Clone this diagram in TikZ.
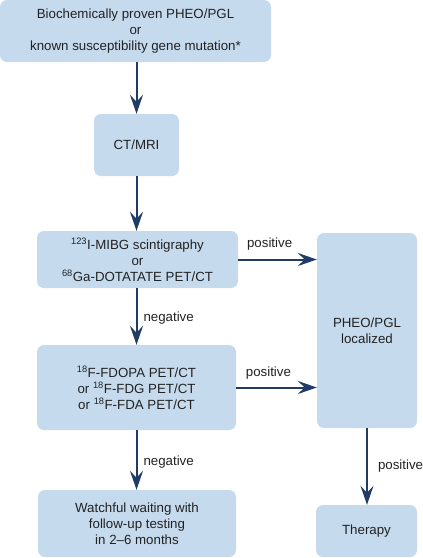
\documentclass[tikz,border=0pt]{standalone}
\usepackage{fontspec}
\setmainfont{Liberation Sans}
\usetikzlibrary{arrows.meta}
\definecolor{boxblue}{HTML}{C6DAEE}
\definecolor{navy}{HTML}{1F3B66}
\definecolor{inktext}{HTML}{222222}

\begin{document}
\begin{tikzpicture}[x=1pt, y=-1pt, >={Stealth[length=19pt, width=13pt, inset=7pt]},
  box/.style={rectangle, rounded corners=7pt, fill=boxblue, align=center, inner sep=0pt, text=inktext, font=\fontsize{13.3}{16}\selectfont},
  edge/.style={->, line width=2pt, draw=navy},
  lbl/.style={text=inktext, font=\fontsize{13.3}{16}\selectfont, inner sep=0pt}
]
\useasboundingbox (0,0) rectangle (423,558);
\node[box, minimum width=271pt, minimum height=62pt] (susp) at (135.5,31) {Biochemically proven PHEO/PGL\\or\\known susceptibility gene mutation*};
\node[box, minimum width=85pt, minimum height=62pt] (ctmri) at (136.5,145) {CT/MRI};
\node[box, minimum width=201pt, minimum height=57pt] (mibg) at (137.5,259.5) {\textsuperscript{123}I-MIBG scintigraphy\\or\\\textsuperscript{68}Ga-DOTATATE PET/CT};
\node[box, minimum width=199pt, minimum height=85pt] (fdopa) at (136.5,387.5) {\textsuperscript{18}F-FDOPA PET/CT\\or \textsuperscript{18}F-FDG PET/CT\\or \textsuperscript{18}F-FDA PET/CT};
\node[box, minimum width=198pt, minimum height=67pt] (watch) at (137,523.5) {Watchful waiting with\\follow-up testing\\in 2–6 months};
\node[box, minimum width=100pt, minimum height=195pt] (local) at (367,330.5) {PHEO/PGL\\localized};
\node[box, minimum width=101pt, minimum height=52pt] (therapy) at (366.5,531) {Therapy};
\draw[edge] (susp.south -| ctmri) -- (ctmri.north);
\draw[edge] (ctmri) -- (ctmri |- mibg.north);
\draw[edge] (mibg.south -| fdopa) -- node[lbl, right=6pt, pos=0.53] {negative} (fdopa.north);
\draw[edge] (fdopa) -- node[lbl, right=6pt, pos=0.53] {negative} (fdopa |- watch.north);
\draw[edge] (mibg) -- node[lbl, above=8pt, pos=0.4] {positive} (mibg -| local.west);
\draw[edge] (fdopa) -- node[lbl, above=7pt, pos=0.4] {positive} (fdopa -| local.west);
\draw[edge] (local) -- node[lbl, right=10pt] {positive} (local |- therapy.north);
\end{tikzpicture}
\end{document}
